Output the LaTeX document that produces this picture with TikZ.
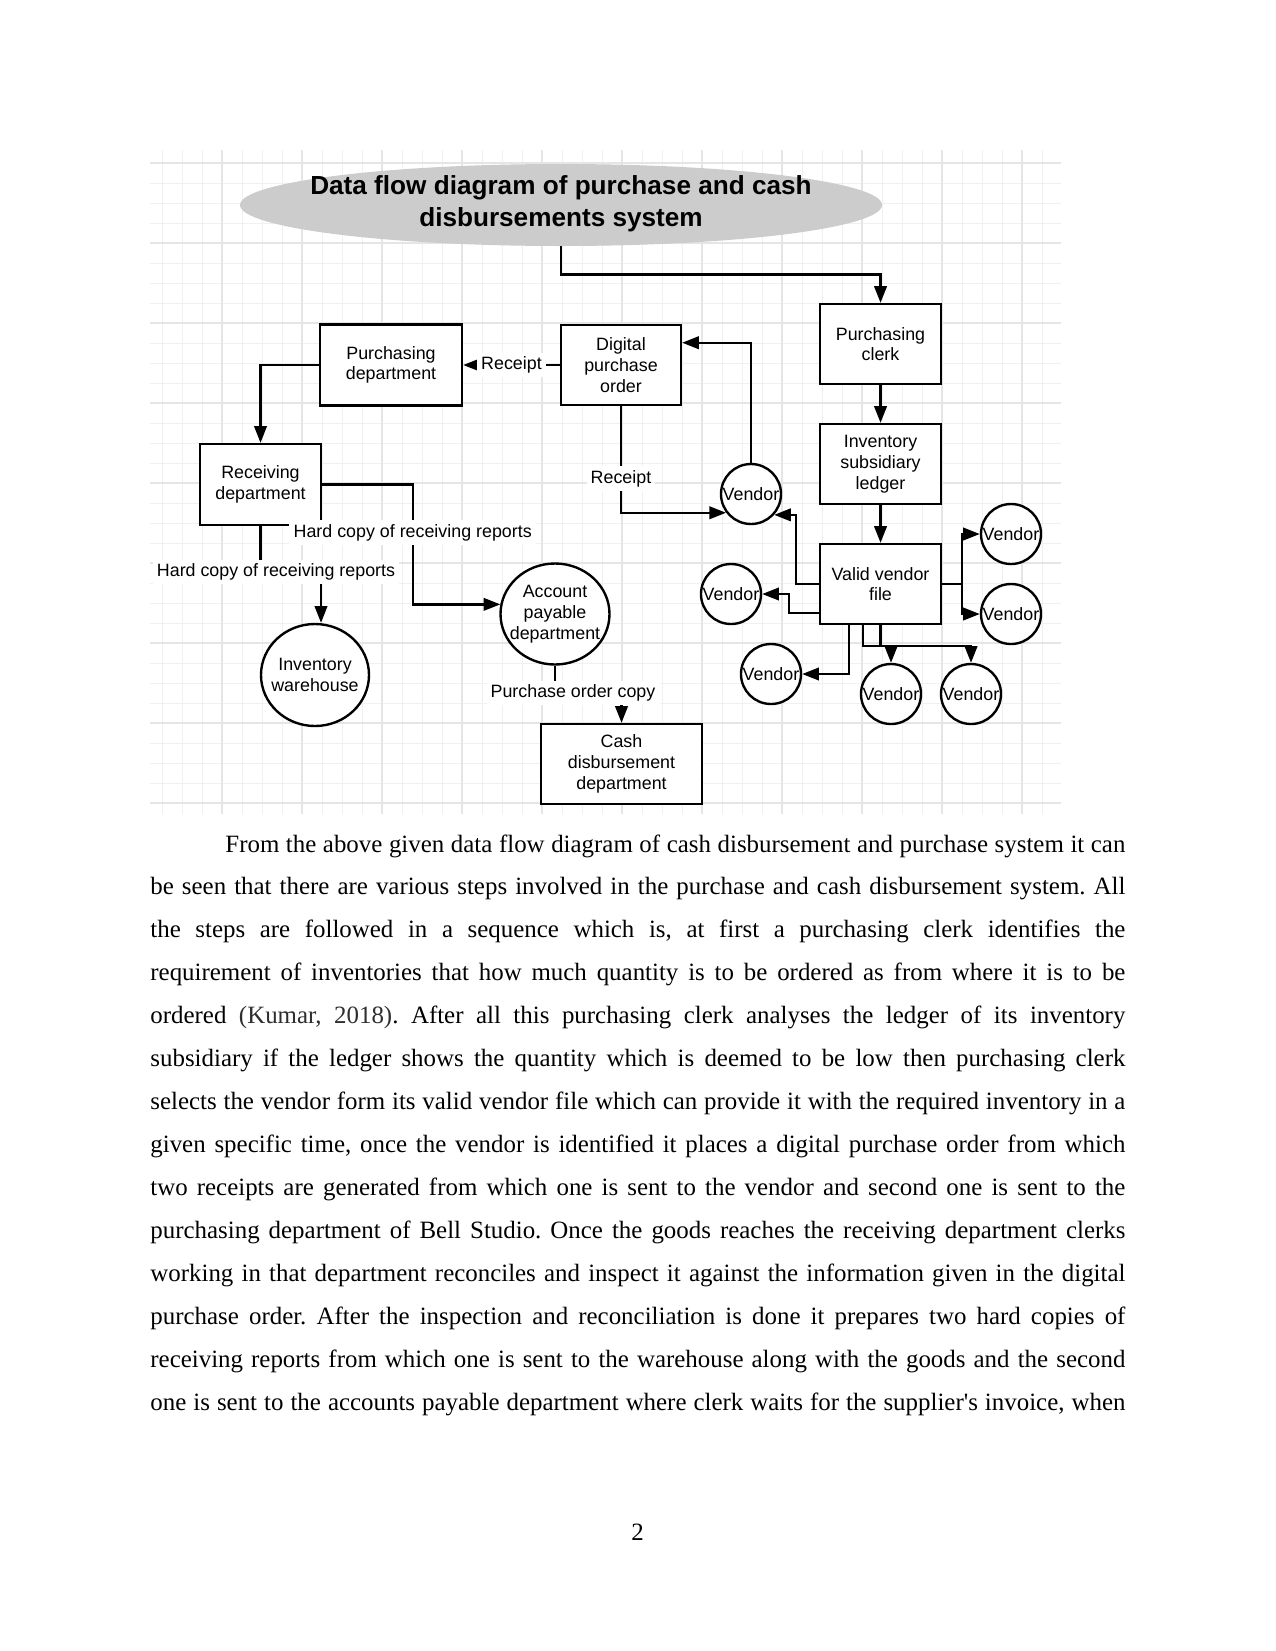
\documentclass[tikz,border=0pt]{standalone}
\usepackage{fontspec}
\setmainfont{Liberation Serif}
\newfontfamily\diagfont{Liberation Sans}
\usetikzlibrary{arrows.meta,shapes.geometric,calc}
\newlength\pxu
\setlength\pxu{0.169333mm}
\begin{document}
\begin{tikzpicture}[x=0.169333mm, y=-0.169333mm,
  minorgrid/.style={draw=black!6, line width=1\pxu},
  majorgrid/.style={draw=black!10, line width=1.5\pxu},
  lbl/.style={font=\diagfont\fontsize{8.6}{10}\selectfont, align=center},
  box/.style={lbl, draw, fill=white, line width=1.15pt, rectangle, inner sep=0pt},
  circ/.style={draw, fill=white, line width=1.15pt, ellipse, inner sep=0pt},
  wire/.style={line width=1.1pt},
  arr/.style={wire, -{Triangle[length=8pt,width=6pt]}},
  flowlabel/.style={lbl, fill=white, inner sep=2pt},
]
\fill[white] (0,0) rectangle (1275,1651);
\useasboundingbox (0,0) rectangle (1275,1651);
% grid background
\begin{scope}
\clip (150,150) rectangle (1061,814);
\foreach \gx in {142,162,...,1062} \draw[minorgrid] (\gx,150) -- (\gx,814);
\foreach \gy in {163,183,...,803} \draw[minorgrid] (150,\gy) -- (1061,\gy);
\foreach \gx in {222,302,...,1022} \draw[majorgrid] (\gx,150) -- (\gx,814);
\foreach \gy in {163,243,...,803} \draw[majorgrid] (150,\gy) -- (1061,\gy);
\end{scope}

% title
\node[ellipse, fill=black!20, minimum width=642\pxu, minimum height=82\pxu, inner sep=0pt] (title) at (561,205) {};
\node[font=\diagfont\bfseries\fontsize{12.6}{15.4}\selectfont, align=center, inner sep=0pt] (titletxt) at (561,204) {Data flow diagram of purchase and cash\\disbursements system};

% boxes
\node[box, minimum width=142\pxu, minimum height=81\pxu] (pd) at (391,365) {Purchasing\\department};
\node[box, minimum width=120\pxu, minimum height=80\pxu] (dpo) at (621,365) {Digital\\purchase\\order};
\node[box, minimum width=121\pxu, minimum height=80\pxu] (pc) at (880.5,344) {Purchasing\\clerk};
\node[box, minimum width=121\pxu, minimum height=80\pxu] (isl) at (880.5,464) {Inventory\\subsidiary\\ledger};
\node[box, minimum width=121\pxu, minimum height=80\pxu] (vvf) at (880.5,584) {Valid vendor\\file};
\node[box, minimum width=121\pxu, minimum height=81\pxu] (rd) at (260.5,484.5) {Receiving\\department};
\node[box, minimum width=161\pxu, minimum height=80\pxu] (cdd) at (621.5,764) {Cash\\disbursement\\department};

% circles
\node[circ, minimum width=108\pxu, minimum height=102\pxu, label={[lbl]center:Inventory\\warehouse}] (iw) at (315,675) {};
\node[circ, minimum width=109\pxu, minimum height=101\pxu, label={[lbl]center:Account\\payable\\department}] (ap) at (555,614) {};
\node[circ, minimum size=60\pxu, label={[lbl]center:Vendor}] (v1) at (751,494) {};
\node[circ, minimum size=60\pxu, label={[lbl]center:Vendor}] (v2) at (731,594) {};
\node[circ, minimum size=60\pxu, label={[lbl]center:Vendor}] (v3) at (771,674) {};
\node[circ, minimum size=60\pxu, label={[lbl]center:Vendor}] (v4) at (891,694) {};
\node[circ, minimum size=60\pxu, label={[lbl]center:Vendor}] (v5) at (971,694) {};
\node[circ, minimum size=60\pxu, label={[lbl]center:Vendor}] (v6) at (1011,534) {};
\node[circ, minimum size=60\pxu, label={[lbl]center:Vendor}] (v7) at (1011,614) {};

% connectors
\draw[arr] (title.south) -- ++(0,28) -| (pc.north);
\draw[arr] (pc) -- (isl);
\draw[arr] (isl) -- (vvf);
\draw[arr] (dpo.west) -- node[flowlabel]{Receipt} (pd.east);
\draw[arr] (pd.west) -| (rd.north);
\draw[arr] (dpo.south) |- node[flowlabel, pos=0.34]{Receipt} (v1.217);
\draw[arr] (v1.north) |- (dpo.20);
\draw[arr] (vvf.west) -- ++(-23,0) |- (v1.-42);
\draw[arr] (vvf.205) -- ++(-30,0) |- (v2.east);
\draw[arr] ($(vvf.south)+(-31.5,0)$) |- (v3.east);
\draw[arr] (vvf.south) -- ++(0,21) -| (v4.north);
\draw[arr] ($(vvf.south)+(-17.5,0)$) -- ++(0,21) -| (v5.north);
\draw[arr] (vvf.east) -- ++(20,0) |- (v6.west);
\draw[arr] (vvf.east) -- ++(20,0) |- (v7.west);
\draw[arr] (rd.east) -- ++(90.5,0) |- node[flowlabel, pos=0.2]{Hard copy of receiving reports} (ap.170);
\draw[arr] (rd.south) -- ++(0,47) -| ($(iw.north)+(6,0)$);
\node[flowlabel] (hc2) at (276,572) {Hard copy of receiving reports};
\draw[arr] (ap.south) -- ++(0,28.5) -| (cdd.north);
\node[flowlabel] (poc) at (573,693) {Purchase order copy};

% body text
\node[anchor=base west, text width=975\pxu, align=justify, inner sep=0pt, font=\fontsize{12}{20.7}\selectfont] (body) at (150,852) {\frenchspacing\parfillskip=0pt \hyphenpenalty=10000 \exhyphenpenalty=10000 \tolerance=9999 \hspace*{75\pxu}From the above given data flow diagram of cash disbursement and purchase system it can\linebreak
be seen that there are various steps involved in the purchase and cash disbursement system. All\linebreak
the steps are followed in a sequence which is, at first a purchasing clerk identifies the\linebreak
requirement of inventories that how much quantity is to be ordered as from where it is to be\linebreak
ordered \textcolor{black!82}{(Kumar, 2018)}. After all this purchasing clerk analyses the ledger of its inventory\linebreak
subsidiary if the ledger shows the quantity which is deemed to be low then purchasing clerk\linebreak
selects the vendor form its valid vendor file which can provide it with the required inventory in a\linebreak
given specific time, once the vendor is identified it places a digital purchase order from which\linebreak
two receipts are generated from which one is sent to the vendor and second one is sent to the\linebreak
purchasing department of Bell Studio. Once the goods reaches the receiving department clerks\linebreak
working in that department reconciles and inspect it against the information given in the digital\linebreak
purchase order. After the inspection and reconciliation is done it prepares two hard copies of\linebreak
receiving reports from which one is sent to the warehouse along with the goods and the second\linebreak
one is sent to the accounts payable department where clerk waits for the supplier\textquotesingle s invoice, when\par};

\node[font=\fontsize{12}{14}\selectfont, anchor=base, inner sep=0pt] (pagenum) at (637.5,1540) {2};
\end{tikzpicture}
\end{document}
